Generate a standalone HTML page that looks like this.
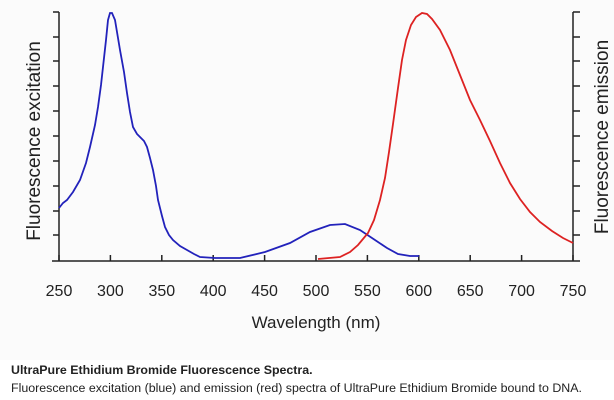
<!DOCTYPE html>
<html><head><style>
body{margin:0;width:614px;height:400px;background:#fff;overflow:hidden;font-family:"Liberation Sans",Arial,sans-serif}
.cap{position:absolute;left:11px;font-size:12.4px;color:#222;white-space:nowrap}
</style></head><body>
<svg width="614" height="360" style="position:absolute;left:0;top:0;background:#fbfbfb">
<g stroke="#222" stroke-width="1.5" fill="none">
<line x1="59" y1="12" x2="59" y2="261"/>
<line x1="573" y1="12" x2="573" y2="261"/>
<line x1="52" y1="261" x2="580" y2="261"/>
<path d="M53 12H59M53 37H59M53 61H59M53 86H59M53 111H59M53 136H59M53 161H59M53 186H59M53 211H59M53 235H59"/>
<path d="M573 12H580M573 37H580M573 61H580M573 86H580M573 111H580M573 136H580M573 161H580M573 186H580M573 211H580M573 235H580"/>
<path d="M59 261V255M110.4 261V255M161.8 261V255M213.2 261V255M264.6 261V255M316 261V255M367.4 261V255M418.8 261V255M470.2 261V255M521.6 261V255M573 261V255"/>
</g>
<g font-size="16" fill="#222" text-anchor="middle">
<text x="59" y="296">250</text><text x="110.4" y="296">300</text><text x="161.8" y="296">350</text><text x="213.2" y="296">400</text><text x="264.6" y="296">450</text><text x="316" y="296">500</text><text x="367.4" y="296">550</text><text x="418.8" y="296">600</text><text x="470.2" y="296">650</text><text x="521.6" y="296">700</text><text x="573" y="296">750</text>
<text x="316" y="328" font-size="17">Wavelength (nm)</text>
<text transform="translate(40,141) rotate(-90)" font-size="19">Fluorescence excitation</text>
<text transform="translate(608,137) rotate(-90)" font-size="19">Fluorescence emission</text>
</g>
<path fill="none" stroke="#2222bb" stroke-width="1.8" d="M59 208 L63 203 L67 200 L73 192 L80 180 L86 163 L90 147 L95 125 L98 107 L101 85 L103 67 L106 40 L108 20 L110 13 L112 13 L115 20 L118 38 L120 50 L124 72 L127 93 L130 112 L133 127 L137 134 L140 137 L144 141 L147 147 L150 158 L153 170 L156 186 L158 200 L162 216 L165 227 L169 235 L173 240 L180 246 L187 250 L194 254 L200 257 L215 258 L240 258 L265 252 L290 243 L310 232 L330 225 L345 224 L360 230 L375 240 L387 248 L398 254 L410 256 L419 256"/>
<path fill="none" stroke="#dd2222" stroke-width="1.8" d="M318 259 L340 257 L350 252 L358 245 L368 233 L374 220 L380 200 L385 178 L389 152 L393 124 L398 88 L402 60 L406 40 L411 25 L416 17 L422 13 L427 14 L432 19 L440 30 L450 50 L460 75 L470 100 L480 120 L490 141 L500 163 L510 183 L520 199 L530 212 L540 222 L552 231 L563 238 L573 243"/>
</svg>
<div class="cap" style="top:363px;font-weight:bold">UltraPure Ethidium Bromide Fluorescence Spectra.</div>
<div class="cap" style="top:381px">Fluorescence excitation (blue) and emission (red) spectra of UltraPure Ethidium Bromide bound to DNA.</div>
</body></html>
